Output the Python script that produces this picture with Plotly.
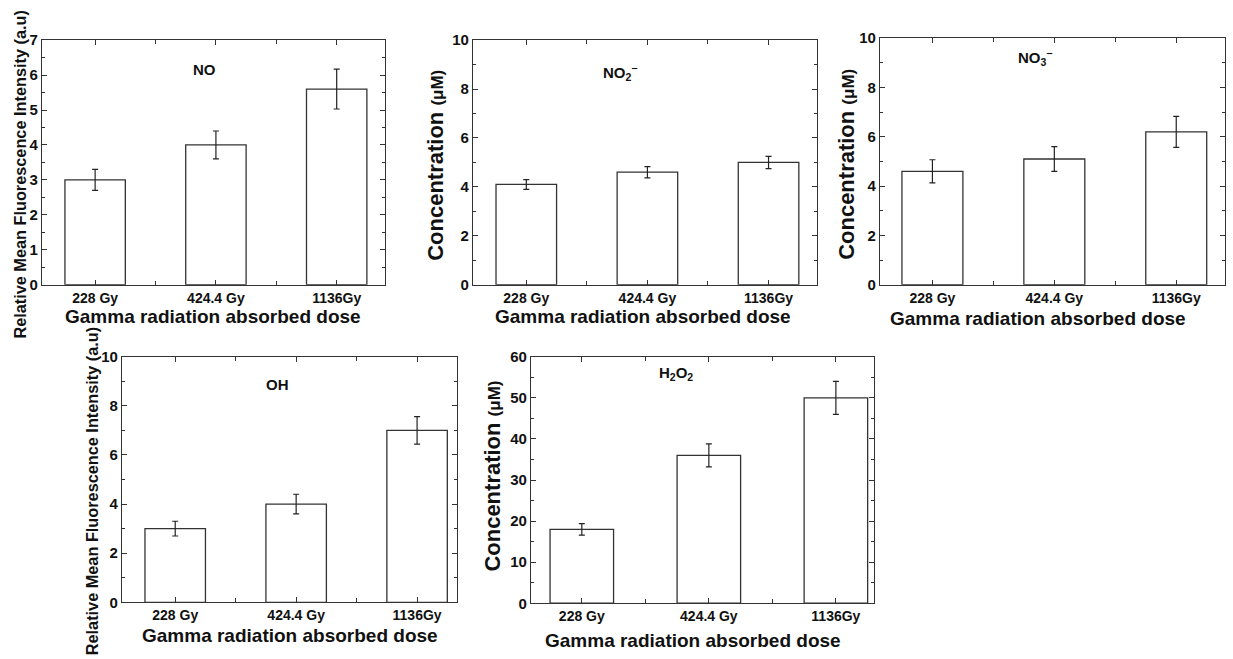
import plotly.graph_objects as go

W, H = 1233, 659

categories = ["228 Gy", "424.4 Gy", "1136Gy"]

no_vals = [3.0, 4.0, 5.6]
no_err = [0.3, 0.4, 0.57]
no2_vals = [4.1, 4.6, 5.0]
no2_err = [0.2, 0.23, 0.25]
no3_vals = [4.6, 5.1, 6.2]
no3_err = [0.47, 0.5, 0.63]
oh_vals = [3.0, 4.0, 7.0]
oh_err = [0.3, 0.4, 0.56]
h2o2_vals = [18.0, 36.0, 50.0]
h2o2_err = [1.4, 2.8, 4.0]

FONT = "Liberation Sans, Arial, sans-serif"
CONC = "Concentration <span style='font-size:17px'>(μM)</span>"
RMFI = "Relative Mean Fluorescence Intensity (a.u)"

# panel boxes in pixels: (x0, x1, ytop, ybottom)
panels = [
    dict(vals=no_vals, err=no_err, box=(42, 385, 32, 283), xr=(-0.44, 2.4), yr=(0, 7), dt=1, mdt=0.5,
         label="NO", lab_xy=(204, 62), ytitle=RMFI, ysize=16.3, yt_x=20, yt_y=170,
         xt_xy=(213, 316)),
    dict(vals=no2_vals, err=no2_err, box=(473, 817, 32, 283), xr=(-0.44, 2.4), yr=(0, 10), dt=2, mdt=1,
         label="NO<sub>2</sub><sup>−</sup>", lab_xy=(620, 65), ytitle=CONC, ysize=22, yt_x=436, yt_y=161,
         xt_xy=(643, 316)),
    dict(vals=no3_vals, err=no3_err, box=(880, 1225, 30, 283), xr=(-0.43, 2.4), yr=(0, 10), dt=2, mdt=1,
         label="NO<sub>3</sub><sup>−</sup>", lab_xy=(1035, 50), ytitle=CONC, ysize=22, yt_x=847, yt_y=160,
         xt_xy=(1038, 318)),
    dict(vals=oh_vals, err=oh_err, box=(122, 457, 357, 609), xr=(-0.44, 2.33), yr=(0, 10), dt=2, mdt=1,
         label="OH", lab_xy=(277, 385), ytitle=RMFI, ysize=16.3, yt_x=92, yt_y=495,
         xt_xy=(290, 643)),
    dict(vals=h2o2_vals, err=h2o2_err, box=(531, 874, 357, 610), xr=(-0.40, 2.3), yr=(0, 60), dt=10, mdt=5,
         label="H<sub>2</sub>O<sub>2</sub>", lab_xy=(676, 374), ytitle=CONC, ysize=22, yt_x=493, yt_y=480,
         xt_xy=(693, 648)),
]

fig = go.Figure()
annotations = []
layout = {}

for i, p in enumerate(panels):
    n = "" if i == 0 else str(i + 1)
    x0, x1, yt, yb = p["box"]
    fig.add_trace(go.Bar(
        x=[0, 1, 2], y=p["vals"], width=0.5,
        marker=dict(color="white", line=dict(color="#333333", width=1.3)),
        error_y=dict(type="data", array=p["err"], color="#222222", thickness=1.2, width=3),
        xaxis="x" + n, yaxis="y" + n, showlegend=False,
    ))
    layout["xaxis" + n] = dict(
        domain=[x0 / W, x1 / W], anchor="y" + n, range=list(p["xr"]),
        tickvals=[0, 1, 2], ticktext=categories, ticks="inside", ticklen=5,
        tickcolor="#333", showline=True, linecolor="#333", linewidth=1.2, mirror="ticks",
        showgrid=False, zeroline=False,
        minor=dict(tickvals=[0.5, 1.5], ticks="inside", ticklen=4, tickcolor="#333"),
        tickfont=dict(family=FONT, size=14, color="#111", weight="bold"),
    )
    layout["yaxis" + n] = dict(
        domain=[1 - yb / H, 1 - yt / H], anchor="x" + n, range=list(p["yr"]),
        dtick=p["dt"], ticks="inside", ticklen=5, tickcolor="#333",
        showline=True, linecolor="#333", linewidth=1.2, mirror="ticks",
        showgrid=False, zeroline=False,
        minor=dict(dtick=p["mdt"], ticks="inside", ticklen=3, tickcolor="#333"),
        tickfont=dict(family=FONT, size=15, color="#111", weight="bold"),
    )
    annotations.append(dict(
        text="<b>" + p["label"] + "</b>", x=p["lab_xy"][0] / W, y=1 - p["lab_xy"][1] / H,
        xref="paper", yref="paper", showarrow=False, xanchor="center", yanchor="middle",
        font=dict(family=FONT, size=15, color="#111"),
    ))
    annotations.append(dict(
        text="<b>" + p["ytitle"] + "</b>", x=p["yt_x"] / W, y=1 - p["yt_y"] / H,
        xref="paper", yref="paper", showarrow=False, textangle=-90,
        xanchor="center", yanchor="middle",
        font=dict(family=FONT, size=p["ysize"], color="#111"),
    ))
    annotations.append(dict(
        text="<b>Gamma radiation absorbed dose</b>", x=p["xt_xy"][0] / W, y=1 - p["xt_xy"][1] / H,
        xref="paper", yref="paper", showarrow=False, xanchor="center", yanchor="middle",
        font=dict(family=FONT, size=19, color="#111"),
    ))

fig.update_layout(
    width=W, height=H, margin=dict(l=0, r=0, t=0, b=0),
    paper_bgcolor="white", plot_bgcolor="white",
    annotations=annotations, bargap=0.5, **layout,
)

fig.write_html("out.html")
